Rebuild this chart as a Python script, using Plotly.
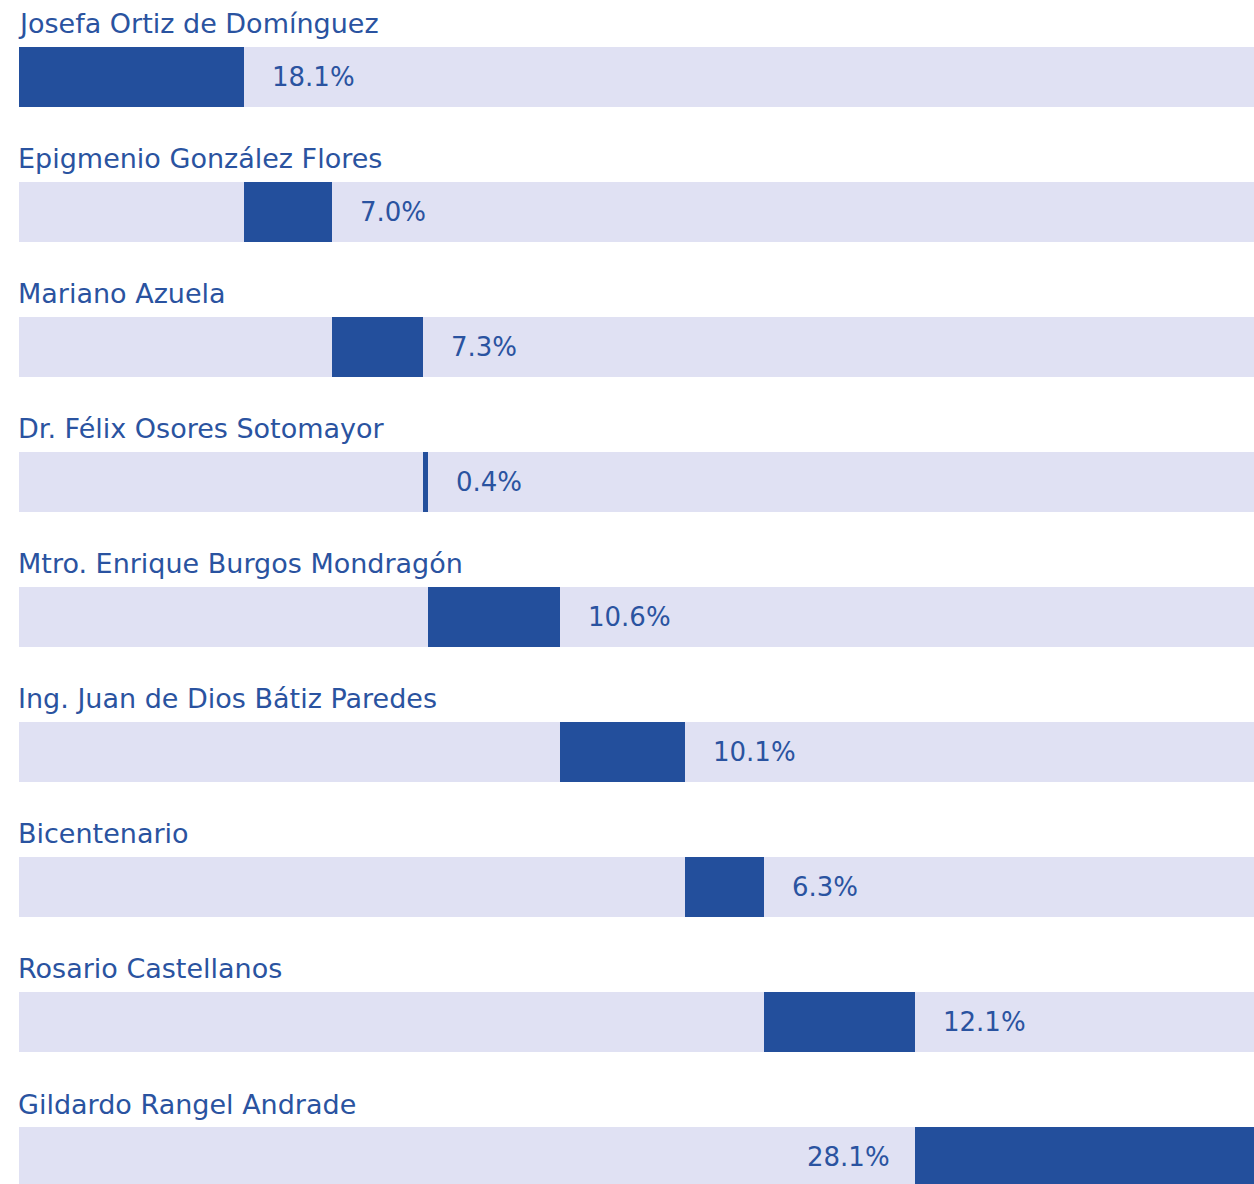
import plotly.graph_objects as go

categories = [
    "Josefa Ortiz de Domínguez",
    "Epigmenio González Flores",
    "Mariano Azuela",
    "Dr. Félix Osores Sotomayor",
    "Mtro. Enrique Burgos Mondragón",
    "Ing. Juan de Dios Bátiz Paredes",
    "Bicentenario",
    "Rosario Castellanos",
    "Gildardo Rangel Andrade",
]
values = [18.1, 7.0, 7.3, 0.4, 10.6, 10.1, 6.3, 12.1, 28.1]
labels = ["18.1%", "7.0%", "7.3%", "0.4%", "10.6%", "10.1%", "6.3%", "12.1%", "28.1%"]

starts = []
acc = 0.0
for v in values:
    starts.append(acc)
    acc += v
total = acc

BLUE = "#234f9c"
LIGHT = "#e0e1f3"
TEXT = "#2a53a0"
FONT = "DejaVu Sans"
CAT_SIZE = 27
VAL_SIZE = 26

rows = list(range(len(categories)))

fig = go.Figure()
fig.add_trace(go.Bar(
    y=rows, x=[total] * len(rows), base=[0] * len(rows), orientation="h",
    marker=dict(color=LIGHT, line=dict(width=0)), width=0.444,
    hoverinfo="skip", showlegend=False,
))
fig.add_trace(go.Bar(
    y=rows, x=values, base=starts, orientation="h",
    marker=dict(color=BLUE, line=dict(width=0)), width=0.444,
    text=labels, hoverinfo="text", textposition="none", showlegend=False,
))

annotations = []
for i, (cat, s, v, lab) in enumerate(zip(categories, starts, values, labels)):
    annotations.append(dict(
        x=0, y=i, xref="x", yref="y", text=cat, showarrow=False,
        xanchor="left", yanchor="middle", yshift=53, xshift=-3,
        font=dict(family=FONT, size=CAT_SIZE, color=TEXT),
    ))
    end = s + v
    if end < 85:
        annotations.append(dict(
            x=end, y=i, xref="x", yref="y", text=lab, showarrow=False,
            xanchor="left", yanchor="middle", xshift=26,
            font=dict(family=FONT, size=VAL_SIZE, color=TEXT),
        ))
    else:
        annotations.append(dict(
            x=s, y=i, xref="x", yref="y", text=lab, showarrow=False,
            xanchor="right", yanchor="middle", xshift=-23,
            font=dict(family=FONT, size=VAL_SIZE, color=TEXT),
        ))

fig.update_layout(
    width=1254, height=1184,
    margin=dict(l=19, r=0, t=0, b=0),
    paper_bgcolor="white", plot_bgcolor="white",
    barmode="overlay",
    bargap=0,
    xaxis=dict(range=[0, 99.15], visible=False, fixedrange=True),
    yaxis=dict(range=[8.2, -0.570], visible=False, fixedrange=True),
    annotations=annotations,
    font=dict(family=FONT),
)

fig.write_html(
    "out.html",
    config=dict(displayModeBar=False),
    post_script="document.body.style.margin='0';document.body.style.overflow='hidden';",
)
